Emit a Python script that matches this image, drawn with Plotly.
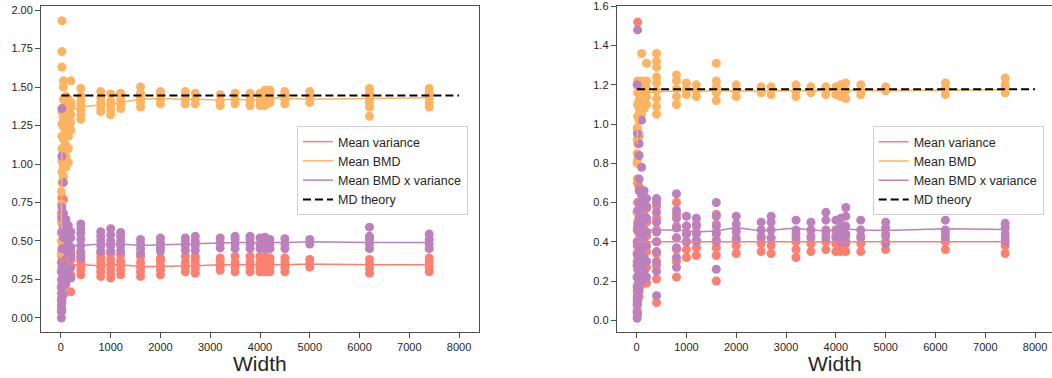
import plotly.graph_objects as go

# Network widths at which the runs were recorded
widths = [10, 20, 50, 100, 150, 200, 400, 800, 1000, 1200, 1600, 2000, 2500, 2700,
          3200, 3500, 3800, 4000, 4100, 4200, 4500, 5000, 6200, 7400]

# ---- Left panel: per-run values at each width ----
left_variance = [
    [0.05, 0.12, 0.20, 0.30, 0.42, 0.55, 0.68],
    [0.10, 0.20, 0.30, 0.40, 0.50, 0.62, 0.78],
    [0.20, 0.28, 0.35, 0.42, 0.50, 0.58, 0.77],
    [0.24, 0.30, 0.36, 0.42, 0.48],
    [0.26, 0.31, 0.36, 0.41, 0.46],
    [0.17, 0.28, 0.33, 0.38, 0.43],
    [0.28, 0.31, 0.34, 0.37, 0.40, 0.42],
    [0.27, 0.30, 0.33, 0.36, 0.39, 0.42],
    [0.26, 0.29, 0.32, 0.35, 0.38, 0.42],
    [0.28, 0.31, 0.34, 0.37, 0.41],
    [0.27, 0.30, 0.33, 0.36, 0.40],
    [0.28, 0.31, 0.34, 0.37, 0.39],
    [0.30, 0.33, 0.36, 0.40],
    [0.29, 0.32, 0.35, 0.38, 0.40],
    [0.31, 0.34, 0.37, 0.39],
    [0.30, 0.33, 0.36, 0.40],
    [0.30, 0.33, 0.36, 0.40],
    [0.30, 0.33, 0.36, 0.40],
    [0.30, 0.33, 0.36, 0.40],
    [0.30, 0.33, 0.36, 0.39],
    [0.30, 0.33, 0.36, 0.39],
    [0.33, 0.35, 0.38],
    [0.29, 0.32, 0.35, 0.38],
    [0.30, 0.33, 0.36, 0.39],
]
left_bmd = [
    [0.42, 0.50, 0.55, 0.62, 0.66, 0.74, 0.82],
    [0.88, 0.95, 1.02, 1.10, 1.18, 1.26, 1.34, 1.63, 1.73, 1.93],
    [0.92, 0.99, 1.08, 1.16, 1.24, 1.30, 1.36, 1.42, 1.50, 1.54],
    [0.98, 1.05, 1.12, 1.20, 1.27, 1.33, 1.38, 1.44],
    [1.01, 1.10, 1.18, 1.25, 1.31, 1.37, 1.42],
    [1.22, 1.27, 1.32, 1.37, 1.40, 1.54],
    [1.29, 1.32, 1.35, 1.38, 1.41, 1.44, 1.49],
    [1.34, 1.37, 1.40, 1.43, 1.47],
    [1.32, 1.35, 1.38, 1.41, 1.455],
    [1.36, 1.39, 1.42, 1.46],
    [1.37, 1.40, 1.43, 1.46, 1.50],
    [1.39, 1.42, 1.45, 1.47],
    [1.39, 1.42, 1.45, 1.47],
    [1.39, 1.42, 1.46],
    [1.38, 1.41, 1.45],
    [1.39, 1.42, 1.46],
    [1.38, 1.41, 1.44, 1.46],
    [1.38, 1.41, 1.44, 1.46],
    [1.38, 1.41, 1.44, 1.48],
    [1.40, 1.43, 1.46, 1.48],
    [1.39, 1.42, 1.45, 1.47],
    [1.40, 1.43, 1.47],
    [1.31, 1.37, 1.40, 1.43, 1.46, 1.49],
    [1.37, 1.40, 1.43, 1.46, 1.49],
]
left_product = [
    [0.00, 0.04, 0.08, 0.12, 0.16, 0.20, 0.25, 0.30, 0.36],
    [0.05, 0.12, 0.22, 0.33, 0.45, 0.56, 0.65, 0.72, 1.05, 1.36],
    [0.15, 0.25, 0.35, 0.45, 0.52, 0.60, 0.68, 0.88],
    [0.22, 0.30, 0.38, 0.45, 0.52, 0.58, 0.64],
    [0.28, 0.35, 0.42, 0.48, 0.55, 0.60],
    [0.26, 0.33, 0.40, 0.46, 0.52, 0.56],
    [0.39, 0.43, 0.47, 0.51, 0.55, 0.58, 0.61],
    [0.435, 0.47, 0.50, 0.53, 0.56],
    [0.435, 0.47, 0.50, 0.54, 0.58],
    [0.435, 0.47, 0.50, 0.53, 0.555],
    [0.42, 0.45, 0.48, 0.51],
    [0.435, 0.46, 0.49, 0.52],
    [0.44, 0.47, 0.50, 0.52],
    [0.44, 0.47, 0.50, 0.53],
    [0.455, 0.49, 0.52],
    [0.45, 0.48, 0.51, 0.53],
    [0.45, 0.48, 0.51, 0.53],
    [0.45, 0.48, 0.52],
    [0.45, 0.48, 0.51, 0.525],
    [0.45, 0.48, 0.51],
    [0.45, 0.48, 0.515],
    [0.48, 0.51],
    [0.45, 0.48, 0.51, 0.53, 0.59],
    [0.45, 0.48, 0.51, 0.545],
]
left_variance_mean = [0.36, 0.37, 0.38, 0.39, 0.36, 0.345, 0.345, 0.34, 0.345, 0.345, 0.335, 0.335,
                      0.34, 0.34, 0.345, 0.345, 0.345, 0.345, 0.35, 0.345, 0.345, 0.35, 0.345, 0.345]
left_bmd_mean = [0.58, 1.10, 1.28, 1.33, 1.36, 1.35, 1.37, 1.385, 1.39, 1.40, 1.42, 1.425,
                 1.42, 1.42, 1.415, 1.42, 1.415, 1.42, 1.425, 1.43, 1.425, 1.42, 1.425, 1.43]
left_product_mean = [0.42, 0.46, 0.47, 0.47, 0.47, 0.47, 0.47, 0.48, 0.48, 0.48, 0.47, 0.475,
                     0.48, 0.48, 0.49, 0.49, 0.49, 0.49, 0.49, 0.49, 0.49, 0.495, 0.49, 0.49]
left_theory = 1.445

# ---- Right panel: per-run values at each width ----
right_variance = [
    [0.05, 0.10, 0.15, 0.22, 0.30, 0.38, 0.46, 0.55],
    [0.08, 0.14, 0.22, 0.30, 0.40, 0.50, 0.60, 0.70, 0.96, 1.52],
    [0.12, 0.20, 0.28, 0.36, 0.44, 0.52, 0.60, 0.68, 0.94],
    [0.18, 0.25, 0.32, 0.40, 0.48, 0.56, 0.64],
    [0.22, 0.30, 0.38, 0.46, 0.54, 0.60],
    [0.19, 0.27, 0.35, 0.43, 0.50, 0.57],
    [0.09, 0.21, 0.28, 0.34, 0.40, 0.46, 0.52, 0.58],
    [0.22, 0.30, 0.36, 0.42, 0.48, 0.54, 0.60],
    [0.32, 0.36, 0.40, 0.44, 0.48],
    [0.33, 0.37, 0.41, 0.45, 0.49],
    [0.20, 0.33, 0.37, 0.41, 0.45, 0.49, 0.54],
    [0.34, 0.38, 0.42, 0.46],
    [0.35, 0.39, 0.43],
    [0.34, 0.38, 0.42],
    [0.32, 0.36, 0.40, 0.44],
    [0.35, 0.39, 0.43],
    [0.36, 0.40, 0.44],
    [0.35, 0.39, 0.43],
    [0.35, 0.39, 0.43],
    [0.35, 0.39, 0.43],
    [0.35, 0.39, 0.43],
    [0.36, 0.40, 0.44],
    [0.36, 0.40, 0.44],
    [0.34, 0.38, 0.42],
]
right_bmd = [
    [0.55, 0.72, 0.80, 0.85, 0.92, 0.98],
    [0.82, 0.90, 0.97, 1.04, 1.10, 1.16, 1.22],
    [0.95, 1.02, 1.08, 1.12, 1.16, 1.20],
    [1.05, 1.10, 1.14, 1.18, 1.22, 1.36],
    [1.08, 1.12, 1.16, 1.20],
    [1.10, 1.14, 1.18, 1.22, 1.31],
    [1.05, 1.09, 1.13, 1.17, 1.21, 1.24, 1.29, 1.32, 1.36],
    [1.10, 1.14, 1.18, 1.22, 1.25],
    [1.15, 1.18, 1.21],
    [1.14, 1.17, 1.20],
    [1.12, 1.16, 1.19, 1.22, 1.31],
    [1.14, 1.17, 1.20],
    [1.16, 1.19],
    [1.15, 1.19],
    [1.14, 1.17, 1.20],
    [1.16, 1.19],
    [1.15, 1.19],
    [1.15, 1.19],
    [1.14, 1.17, 1.20],
    [1.13, 1.17, 1.21],
    [1.15, 1.17, 1.20],
    [1.17, 1.19],
    [1.15, 1.18, 1.21],
    [1.16, 1.18, 1.20, 1.235],
]
right_product = [
    [0.01, 0.04, 0.08, 0.12, 0.17, 0.22, 0.28, 0.34, 0.40, 1.20],
    [0.03, 0.10, 0.18, 0.26, 0.33, 0.40, 0.48, 0.56, 0.95, 1.48],
    [0.15, 0.22, 0.30, 0.38, 0.45, 0.52, 0.60, 0.66, 0.72, 0.84, 0.90],
    [0.20, 0.28, 0.36, 0.44, 0.50, 0.57, 0.64, 0.78, 1.02],
    [0.25, 0.32, 0.40, 0.46, 0.52, 0.58, 0.66],
    [0.22, 0.30, 0.38, 0.45, 0.52, 0.58, 0.62],
    [0.125, 0.25, 0.30, 0.35, 0.40, 0.45, 0.50, 0.55, 0.60, 0.62],
    [0.27, 0.32, 0.37, 0.42, 0.47, 0.52, 0.56, 0.645],
    [0.40, 0.44, 0.48, 0.53],
    [0.40, 0.44, 0.48, 0.52],
    [0.26, 0.40, 0.44, 0.48, 0.53, 0.60],
    [0.41, 0.45, 0.49, 0.53],
    [0.42, 0.46, 0.50],
    [0.42, 0.46, 0.50, 0.53],
    [0.42, 0.46, 0.51],
    [0.42, 0.46, 0.50],
    [0.42, 0.46, 0.51, 0.55],
    [0.42, 0.46, 0.51],
    [0.40, 0.44, 0.48, 0.52],
    [0.40, 0.44, 0.48, 0.53, 0.575],
    [0.42, 0.46, 0.51],
    [0.39, 0.43, 0.47, 0.50],
    [0.42, 0.46, 0.51],
    [0.40, 0.44, 0.47, 0.494],
]
right_variance_mean = [0.40] * 24
right_bmd_mean = [0.90, 1.00, 1.13, 1.15, 1.16, 1.16, 1.165, 1.17, 1.17, 1.168, 1.17, 1.17,
                  1.168, 1.17, 1.17, 1.17, 1.168, 1.17, 1.17, 1.172, 1.17, 1.17, 1.172, 1.175]
right_product_mean = [0.44, 0.46, 0.46, 0.46, 0.46, 0.46, 0.46, 0.46, 0.455, 0.45, 0.455, 0.473,
                      0.455, 0.46, 0.47, 0.46, 0.455, 0.46, 0.46, 0.465, 0.46, 0.458, 0.466, 0.463]
right_theory = 1.178

theory_x = [10, 8000]

RED = "#fb8072"
ORANGE = "#fdb462"
PURPLE = "#bc80bd"
FONT = "Liberation Sans, Arial, sans-serif"
AXIS = "#4d4d4d"
TEXT = "#262626"


def flatten(samples):
    xs, ys = [], []
    for w, vals in zip(widths, samples):
        xs.extend([w] * len(vals))
        ys.extend(vals)
    return xs, ys


fig = go.Figure()


def add_panel(xa, ya, legend, var, bmd, prod, var_m, bmd_m, prod_m, theory):
    for samples, color in ((var, RED), (bmd, ORANGE), (prod, PURPLE)):
        xs, ys = flatten(samples)
        fig.add_trace(go.Scatter(x=xs, y=ys, mode="markers", xaxis=xa, yaxis=ya,
                                 marker=dict(color=color, size=9, line=dict(width=0)),
                                 showlegend=False, hoverinfo="skip"))
    for means, color, name in ((var_m, RED, "Mean variance"), (bmd_m, ORANGE, "Mean BMD"),
                               (prod_m, PURPLE, "Mean BMD x variance")):
        fig.add_trace(go.Scatter(x=widths, y=means, mode="lines", name=name, xaxis=xa, yaxis=ya,
                                 line=dict(color=color, width=1.5), legend=legend))
    fig.add_trace(go.Scatter(x=theory_x, y=[theory, theory], mode="lines", name="MD theory",
                             xaxis=xa, yaxis=ya, legend=legend,
                             line=dict(color="black", width=2, dash="8px,4px")))


add_panel("x", "y", "legend", left_variance, left_bmd, left_product,
          left_variance_mean, left_bmd_mean, left_product_mean, left_theory)
add_panel("x2", "y2", "legend2", right_variance, right_bmd, right_product,
          right_variance_mean, right_bmd_mean, right_product_mean, right_theory)

W, H = 1052, 378
ydom = [1 - 332 / H, 1 - 6 / H]

common_axis = dict(showline=True, linecolor=AXIS, linewidth=1, ticks="outside", ticklen=5,
                   tickwidth=1, tickcolor=AXIS, showgrid=False, zeroline=False,
                   tickfont=dict(family=FONT, size=11, color=TEXT), automargin=False)

legend_style = dict(font=dict(family=FONT, size=12.5, color=TEXT), bgcolor="rgba(255,255,255,0.8)",
                    bordercolor="#d0d0d0", borderwidth=1, xanchor="left", yanchor="top",
                    itemwidth=30, tracegroupgap=0)

fig.update_layout(
    width=W, height=H,
    margin=dict(l=0, r=0, t=0, b=0),
    paper_bgcolor="white", plot_bgcolor="white",
    xaxis=dict(domain=[41 / W, 479 / W], range=[-400, 8400], dtick=1000, anchor="y",
               mirror=True, **common_axis),
    yaxis=dict(domain=ydom, range=[-0.091, 2.026], dtick=0.25, tickformat=".2f", anchor="x",
               mirror=True, **common_axis),
    xaxis2=dict(domain=[616.7 / W, 1.0], range=[-400, 8340], dtick=1000, anchor="y2",
                mirror=True, **common_axis),
    yaxis2=dict(domain=ydom, range=[-0.06, 1.602], dtick=0.2, tickformat=".1f", anchor="x2",
                mirror=False, **common_axis),
    legend=dict(x=297 / W, y=1 - 126 / H, **legend_style),
    legend2=dict(x=872.7 / W, y=1 - 126 / H, **legend_style),
    annotations=[
        dict(text="Width", x=260 / W, y=1 - 363 / H, xref="paper", yref="paper",
             showarrow=False, xanchor="center", yanchor="middle",
             font=dict(family=FONT, size=21, color=TEXT)),
        dict(text="Width", x=835 / W, y=1 - 363 / H, xref="paper", yref="paper",
             showarrow=False, xanchor="center", yanchor="middle",
             font=dict(family=FONT, size=21, color=TEXT)),
    ],
)

fig.write_html("out.html")
